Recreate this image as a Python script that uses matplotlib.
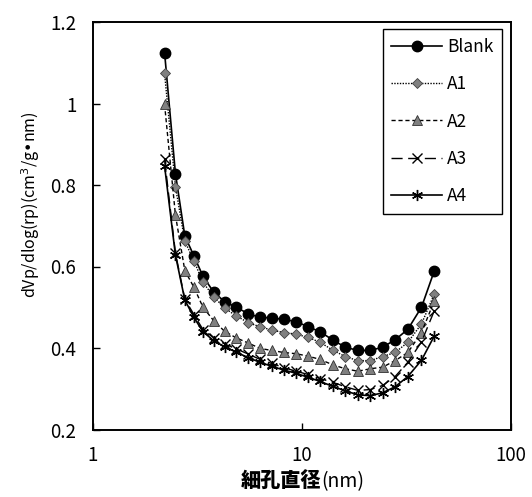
import matplotlib
matplotlib.use("Agg")
import matplotlib.pyplot as plt
from matplotlib.ticker import FixedLocator, NullLocator, FixedFormatter

plt.rcParams['font.family'] = ['Noto Sans CJK JP', 'DejaVu Sans']

# pore diameter (nm)
diameter = [2.20, 2.48, 2.75, 3.04, 3.36, 3.78, 4.26, 4.84, 5.54, 6.30, 7.16, 8.17,
            9.36, 10.7, 12.2, 14.0, 16.1, 18.5, 21.2, 24.3, 27.9, 32.1, 37.3, 43.0]

blank = [1.125, 0.828, 0.675, 0.626, 0.576, 0.537, 0.514, 0.500, 0.484, 0.475, 0.474, 0.470,
         0.465, 0.452, 0.440, 0.420, 0.402, 0.394, 0.394, 0.402, 0.420, 0.446, 0.500, 0.590]
a1 = [1.074, 0.796, 0.662, 0.614, 0.561, 0.526, 0.498, 0.479, 0.462, 0.452, 0.444, 0.438,
      0.434, 0.426, 0.414, 0.395, 0.379, 0.369, 0.369, 0.379, 0.389, 0.414, 0.459, 0.533]
a2 = [0.998, 0.726, 0.590, 0.549, 0.500, 0.467, 0.441, 0.425, 0.412, 0.399, 0.394, 0.389,
      0.386, 0.380, 0.372, 0.359, 0.349, 0.343, 0.349, 0.353, 0.369, 0.389, 0.438, 0.516]
a3 = [0.863, 0.633, 0.520, 0.482, 0.445, 0.425, 0.410, 0.398, 0.385, 0.372, 0.362, 0.352,
      0.343, 0.335, 0.325, 0.316, 0.305, 0.296, 0.298, 0.308, 0.330, 0.365, 0.415, 0.492]
a4 = [0.847, 0.628, 0.518, 0.475, 0.440, 0.418, 0.403, 0.390, 0.376, 0.365, 0.355, 0.346,
      0.338, 0.328, 0.318, 0.306, 0.295, 0.285, 0.283, 0.290, 0.305, 0.330, 0.370, 0.430]

series_names = ["Blank", "A1", "A2", "A3", "A4"]
x_ticks = [1, 10, 100]
x_ticklabels = ["1", "10", "100"]
y_ticks = [0.2, 0.4, 0.6, 0.8, 1.0, 1.2]
y_ticklabels = ["0.2", "0.4", "0.6", "0.8", "1", "1.2"]

W, H = 532, 497
fig = plt.figure(figsize=(W / 100, H / 100), dpi=100)
ax = fig.add_axes([93 / W, 1 - 429.5 / H, (511 - 93) / W, (429.5 - 22) / H])

gray = "#808080"
styles = [
    dict(color="black", ls="-", lw=1.2, marker="o", ms=7.5, mfc="black", mec="black"),
    dict(color="black", ls=(0, (1, 1)), lw=1.0, marker="D", ms=5.5, mfc=gray, mec="#404040", mew=0.6),
    dict(color="black", ls=(0, (3, 2)), lw=1.0, marker="^", ms=7.5, mfc=gray, mec="#303030", mew=0.6),
    dict(color="black", ls=(0, (8, 4)), lw=1.0, marker="x", ms=7, mec="black", mew=1.0),
    dict(color="black", ls="-", lw=1.2, marker=(6, 2, 0), ms=8, mec="black", mew=1.0),
]
for vals, name, st in zip([blank, a1, a2, a3, a4], series_names, styles):
    ax.plot(diameter, vals, label=name, **st)

ax.set_xscale("log")
ax.set_xlim(1, 100)
ax.set_ylim(0.2, 1.2)
ax.xaxis.set_major_locator(FixedLocator(x_ticks))
ax.xaxis.set_major_formatter(FixedFormatter(x_ticklabels))
ax.xaxis.set_minor_locator(NullLocator())
ax.yaxis.set_major_locator(FixedLocator(y_ticks))
ax.yaxis.set_major_formatter(FixedFormatter(y_ticklabels))

ax.tick_params(axis="both", direction="in", length=5, width=1.0, labelsize=13.5)
ax.tick_params(axis="x", pad=11)
ax.tick_params(axis="y", pad=12)
for sp in ax.spines.values():
    sp.set_linewidth(1.4)

leg = ax.legend(loc="upper right", bbox_to_anchor=(502 / W, 1 - 29 / H),
                bbox_transform=fig.transFigure, borderaxespad=0,
                fancybox=False, edgecolor="black", framealpha=1,
                fontsize=12.5, handlelength=2.9, labelspacing=1.12,
                handletextpad=0.3, borderpad=0.5)
leg.get_frame().set_linewidth(1.0)

# y label
fig.text(31 / W, 1 - 205 / H, "dVp/dlog(rp)(cm$^3$/g\u2022nm)", rotation=90,
         ha="center", va="center", fontsize=11.5)

# x label: bold CJK part + regular (nm)
fig.text(321 / W, 1 - 482 / H, "細孔直径", ha="right", va="center",
         fontsize=14.5, fontweight="black")
fig.text(321 / W, 1 - 482 / H, "(nm)", ha="left", va="center", fontsize=14)

fig.savefig("out.png", dpi=100)
